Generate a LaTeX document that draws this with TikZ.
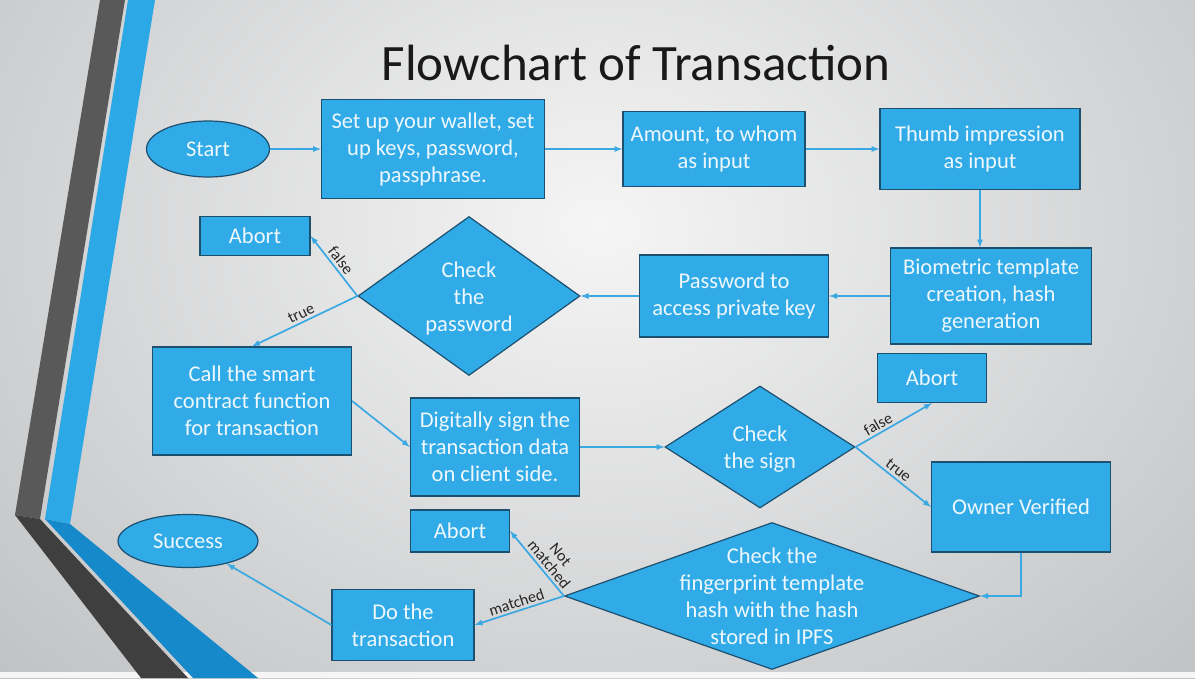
\documentclass[tikz,border=0pt]{standalone}
\usepackage{fontspec}
\setmainfont{Carlito}
\usepackage{tikz}
\usetikzlibrary{shapes.geometric}
\usetikzlibrary{arrows}

\definecolor{bgcenter}{HTML}{F5F5F5}
\definecolor{bgouter}{HTML}{B6B8BA}
\definecolor{boxblue}{HTML}{30ABE8}
\definecolor{boxedge}{HTML}{1D4F6F}
\definecolor{boxtext}{HTML}{EEF7FC}
\definecolor{linkblue}{HTML}{3AA8E2}
\definecolor{bandgray}{HTML}{595959}
\definecolor{banddark}{HTML}{3F3F3F}
\definecolor{bandblue}{HTML}{2DA8E6}
\definecolor{banddeep}{HTML}{1689CB}

\tikzstyle{stepbox}=[rectangle, draw=boxedge, line width=1.2pt, fill=boxblue, text=boxtext, align=center, inner sep=0pt, font=\fontsize{22.5}{27}\selectfont]
\tikzstyle{endpoint}=[stepbox, ellipse]
\tikzstyle{checkbox}=[stepbox, diamond]
\tikzstyle{link}=[->, >=latex, draw=linkblue, line width=1.7pt]
\tikzstyle{linklabel}=[sloped, above, inner sep=2.5pt, text=black!85, align=center, font=\fontsize{16}{15}\selectfont]

\newcommand{\diamondtext}[1]{\smash{\makebox[0pt]{\raisebox{-8pt}{\begin{tabular}{@{}c@{}}#1\end{tabular}}}}}

\begin{document}
\begin{tikzpicture}[x=1pt, y=-1pt]
\useasboundingbox (0,0) rectangle (1195,678);
\begin{scope}
\clip (0,0) rectangle (1195,678);
\shade[inner color=bgcenter, outer color=bgouter] (-400,-550) rectangle (1600,1000);
\end{scope}
\fill[white!92!gray] (0,672) rectangle (1195,678);
\fill[bandgray] (100,0) -- (125,0) -- (40,519) -- (15,515) -- cycle;
\fill[banddark] (15,515) -- (40,519) -- (188,678) -- (141,678) -- cycle;
\fill[bandblue] (128,0) -- (155,0) -- (70,524) -- (45,519) -- cycle;
\fill[banddeep] (45,519) -- (70,524) -- (258,678) -- (193,678) -- cycle;

\node[font=\fontsize{51}{56}\selectfont, text=black!90] (title) at (636,63) {Flowchart of Transaction};

\node[endpoint, minimum width=123, minimum height=56] (start) at (208,149) {Start};
\node[stepbox, minimum width=223, minimum height=99] (wallet) at (433,149) {Set up your wallet, set\\up keys, password,\\passphrase.};
\node[stepbox, minimum width=182, minimum height=75] (amount) at (714,149) {Amount, to whom\\as input};
\node[stepbox, minimum width=200, minimum height=81] (thumb) at (980,149) {Thumb impression\\as input};
\node[stepbox, minimum width=201, minimum height=96] (biom) at (991,296) {Biometric template\\creation, hash\\generation};
\node[stepbox, minimum width=189, minimum height=82] (passkey) at (734,296) {Password to\\access private key};
\node[checkbox, minimum width=222, minimum height=159] (chkpass) at (469,296) {\diamondtext{Check\\the\\password}};
\node[stepbox, minimum width=110, minimum height=39] (abort1) at (255,236) {Abort};
\node[stepbox, minimum width=199, minimum height=108] (smart) at (252,401) {Call the smart\\contract function\\for transaction};
\node[stepbox, minimum width=169, minimum height=98] (sign) at (495,447) {Digitally sign the\\transaction data\\on client side.};
\node[checkbox, minimum width=190, minimum height=122] (chksign) at (760,447) {\diamondtext{Check\\the sign}};
\node[stepbox, minimum width=109, minimum height=49] (abort2) at (932,378) {Abort};
\node[stepbox, minimum width=179, minimum height=90] (owner) at (1021,507) {Owner Verified};
\node[checkbox, minimum width=415, minimum height=147] (chkhash) at (772,596) {\diamondtext{Check the\\fingerprint template\\hash with the hash\\stored in IPFS}};
\node[stepbox, minimum width=99, minimum height=42] (abort3) at (460,531) {Abort};
\node[stepbox, minimum width=142, minimum height=71] (dotrans) at (403,625) {Do the\\transaction};
\node[endpoint, minimum width=140, minimum height=53] (success) at (188,541) {Success};

\draw[link] (start) -- (wallet);
\draw[link] (wallet) -- (amount);
\draw[link] (amount) -- (thumb);
\draw[link] (thumb.south) -- (thumb.south |- biom.north);
\draw[link] (biom) -- (passkey);
\draw[link] (passkey) -- (chkpass);
\draw[link] (chkpass.west) -- node[linklabel] {false} (abort1.east);
\draw[link] (chkpass.west) -- node[linklabel] {true} (smart.north);
\draw[link] (smart.east) -- (sign.west);
\draw[link] (sign) -- (chksign);
\draw[link] (chksign.east) -- node[linklabel, pos=0.35] {false} (abort2.south);
\draw[link] (chksign.east) -- node[linklabel] {true} (owner.west);
\draw[link] (owner.south) |- (chkhash.east);
\draw[link] (chkhash.west) -- node[linklabel, pos=0.4] {Not\\matched} (abort3.east);
\draw[link] (chkhash.west) -- node[linklabel] {matched} (dotrans.east);
\draw[link] (dotrans.west) -- (success);
\end{tikzpicture}
\end{document}
